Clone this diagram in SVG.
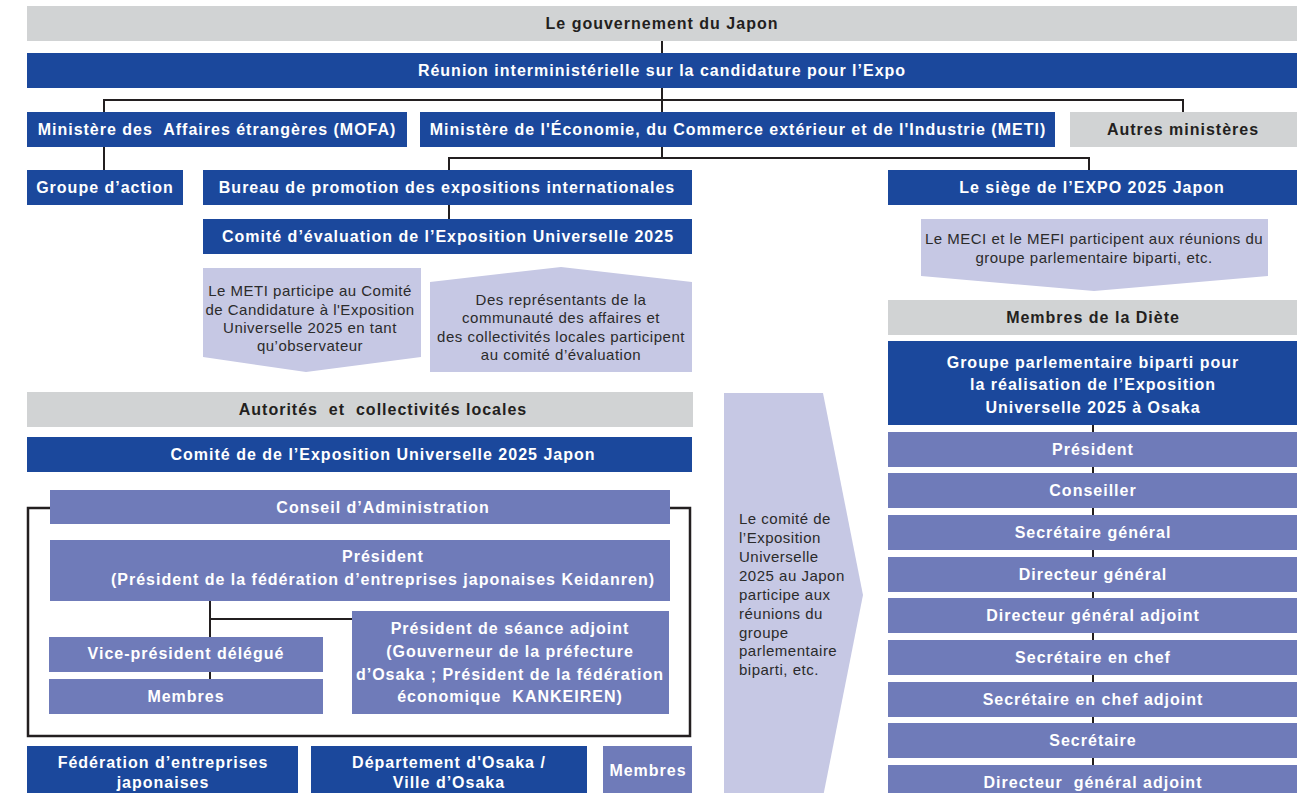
<svg xmlns="http://www.w3.org/2000/svg" width="1315" height="793" viewBox="0 0 1315 793">
<defs>
<style>
.dk{fill:#1b489c}
.pw{fill:#6f7bb9}
.gr{fill:#d1d3d4}
.lv{fill:#c6c8e4}
.tw{font-family:"Liberation Sans",Arial,sans-serif;font-size:16px;font-weight:bold;fill:#ffffff;letter-spacing:1px;text-anchor:middle}
.tg{font-family:"Liberation Sans",Arial,sans-serif;font-size:16px;font-weight:bold;fill:#231f20;letter-spacing:1px;text-anchor:middle}
.tr{font-family:"Liberation Sans",Arial,sans-serif;font-size:15px;fill:#2b2b2b;letter-spacing:0.5px;text-anchor:middle}
.tl{font-family:"Liberation Sans",Arial,sans-serif;font-size:15px;fill:#2b2b2b;letter-spacing:0.5px}
.ln{fill:none;stroke:#231f20;stroke-width:2}
</style>
</defs>
<rect width="1315" height="793" fill="#ffffff"/>

<g id="connectors">
<path class="ln" d="M662,40 V112"/>
<path class="ln" d="M104,112 V100 H1183 V112"/>
<path class="ln" d="M104,147 V170"/>
<path class="ln" d="M662,147 V158"/>
<path class="ln" d="M449,170 V158 H1089 V170"/>
<path class="ln" d="M449,205 V219"/>
<path class="ln" d="M1093,425 V793"/>
<path class="ln" d="M210,601 V679"/>
<path class="ln" d="M210,619 H352"/>
<rect x="28" y="508" width="662" height="228" fill="none" stroke="#231f20" stroke-width="2.5"/>
</g>

<g id="gouvernement"><rect class="gr" x="27" y="6" width="1270" height="35"/><text class="tg" x="662" y="29">Le gouvernement du Japon</text></g>
<g id="reunion"><rect class="dk" x="27" y="53" width="1270" height="35"/><text class="tw" x="662" y="76">Réunion interministérielle sur la candidature pour l’Expo</text></g>
<g id="mofa"><rect class="dk" x="27" y="112" width="380" height="35"/><text class="tw" x="217" y="135" xml:space="preserve">Ministère des  Affaires étrangères (MOFA)</text></g>
<g id="meti"><rect class="dk" x="420" y="112" width="635" height="35"/><text class="tw" x="738" y="135">Ministère de l'Économie, du Commerce extérieur et de l'Industrie (METI)</text></g>
<g id="autres"><rect class="gr" x="1070" y="112" width="227" height="35"/><text class="tg" x="1183" y="135">Autres ministères</text></g>
<g id="groupe-action"><rect class="dk" x="27" y="170" width="156" height="35"/><text class="tw" x="105" y="193">Groupe d’action</text></g>
<g id="bureau"><rect class="dk" x="203" y="170" width="489" height="35"/><text class="tw" x="447" y="193">Bureau de promotion des expositions internationales</text></g>
<g id="siege"><rect class="dk" x="888" y="170" width="409" height="35"/><text class="tw" x="1092" y="193">Le siège de l’EXPO 2025 Japon</text></g>
<g id="comite-eval"><rect class="dk" x="203" y="219" width="489" height="35"/><text class="tw" x="448" y="242">Comité d’évaluation de l’Exposition Universelle 2025</text></g>

<g id="note-meti"><path class="lv" d="M203,268 H421 V357 L306,372 L203,357 Z"/>
<text class="tr" x="310" y="296">Le METI participe au Comité</text>
<text class="tr" x="310" y="315">de Candidature à l'Exposition</text>
<text class="tr" x="310" y="333">Universelle 2025 en tant</text>
<text class="tr" x="310" y="351">qu’observateur</text></g>

<g id="note-representants"><path class="lv" d="M430,282 L561,267 L692,282 V372 H430 Z"/>
<text class="tr" x="561" y="305">Des représentants de la</text>
<text class="tr" x="561" y="323">communauté des affaires et</text>
<text class="tr" x="561" y="342">des collectivités locales participent</text>
<text class="tr" x="561" y="360">au comité d’évaluation</text></g>

<g id="note-meci"><path class="lv" d="M921,219 H1268 V276 L1094,291 L921,276 Z"/>
<text class="tr" x="1094" y="244">Le MECI et le MEFI participent aux réunions du</text>
<text class="tr" x="1094" y="263">groupe parlementaire biparti, etc.</text></g>

<g id="autorites"><rect class="gr" x="27" y="392" width="666" height="35"/><text class="tg" x="383" y="415" xml:space="preserve">Autorités  et  collectivités locales</text></g>
<g id="comite-japon"><rect class="dk" x="27" y="437" width="665" height="35"/><text class="tw" x="383" y="460">Comité de de l’Exposition Universelle 2025 Japon</text></g>

<g id="conseil"><rect class="pw" x="50" y="490" width="620" height="34"/><text class="tw" x="383" y="513">Conseil d’Administration</text></g>
<g id="president-conseil"><rect class="pw" x="50" y="540" width="620" height="61"/>
<text class="tw" x="383" y="562">Président</text>
<text class="tw" x="383" y="585">(Président de la fédération d’entreprises japonaises Keidanren)</text></g>
<g id="vice-president"><rect class="pw" x="49" y="637" width="274" height="35"/><text class="tw" x="186" y="659">Vice-président délégué</text></g>
<g id="membres-conseil"><rect class="pw" x="49" y="679" width="274" height="35"/><text class="tw" x="186" y="702">Membres</text></g>
<g id="president-seance"><rect class="pw" x="352" y="611" width="317" height="103"/>
<text class="tw" x="510" y="634">Président de séance adjoint</text>
<text class="tw" x="510" y="657">(Gouverneur de la préfecture</text>
<text class="tw" x="510" y="680">d’Osaka ; Président de la fédération</text>
<text class="tw" x="510" y="702" xml:space="preserve">économique  KANKEIREN)</text></g>

<g id="federation"><rect class="dk" x="27" y="746" width="271" height="54"/>
<text class="tw" x="163" y="768">Fédération d’entreprises</text>
<text class="tw" x="163" y="788">japonaises</text></g>
<g id="departement"><rect class="dk" x="311" y="746" width="276" height="54"/>
<text class="tw" x="449" y="768">Département d'Osaka /</text>
<text class="tw" x="449" y="788">Ville d’Osaka</text></g>
<g id="membres-bas"><rect class="pw" x="603" y="746" width="89" height="54"/><text class="tw" x="648" y="776">Membres</text></g>

<g id="note-comite"><path class="lv" d="M724,393 H823 L863,595 L823,797 H724 Z"/>
<text class="tl" x="739" y="524">Le comité de</text>
<text class="tl" x="739" y="543">l’Exposition</text>
<text class="tl" x="739" y="562">Universelle</text>
<text class="tl" x="739" y="581">2025 au Japon</text>
<text class="tl" x="739" y="600">participe aux</text>
<text class="tl" x="739" y="619">réunions du</text>
<text class="tl" x="739" y="638">groupe</text>
<text class="tl" x="739" y="656">parlementaire</text>
<text class="tl" x="739" y="675">biparti, etc.</text></g>

<g id="membres-diete"><rect class="gr" x="888" y="300" width="409" height="35"/><text class="tg" x="1093" y="323">Membres de la Diète</text></g>
<g id="groupe-parlementaire"><rect class="dk" x="888" y="341" width="409" height="84"/>
<text class="tw" x="1093" y="368">Groupe parlementaire biparti pour</text>
<text class="tw" x="1093" y="390">la réalisation de l’Exposition</text>
<text class="tw" x="1093" y="413">Universelle 2025 à Osaka</text></g>
<g id="gp-president"><rect class="pw" x="888" y="432" width="409" height="35"/><text class="tw" x="1093" y="455">Président</text></g>
<g id="gp-conseiller"><rect class="pw" x="888" y="473" width="409" height="35"/><text class="tw" x="1093" y="496">Conseiller</text></g>
<g id="gp-secretaire-general"><rect class="pw" x="888" y="515" width="409" height="35"/><text class="tw" x="1093" y="538">Secrétaire général</text></g>
<g id="gp-directeur-general"><rect class="pw" x="888" y="557" width="409" height="35"/><text class="tw" x="1093" y="580">Directeur général</text></g>
<g id="gp-directeur-adjoint"><rect class="pw" x="888" y="598" width="409" height="35"/><text class="tw" x="1093" y="621">Directeur général adjoint</text></g>
<g id="gp-secretaire-chef"><rect class="pw" x="888" y="640" width="409" height="35"/><text class="tw" x="1093" y="663">Secrétaire en chef</text></g>
<g id="gp-secretaire-chef-adjoint"><rect class="pw" x="888" y="682" width="409" height="35"/><text class="tw" x="1093" y="705">Secrétaire en chef adjoint</text></g>
<g id="gp-secretaire"><rect class="pw" x="888" y="723" width="409" height="35"/><text class="tw" x="1093" y="746">Secrétaire</text></g>
<g id="gp-directeur-adjoint-2"><rect class="pw" x="888" y="765" width="409" height="35"/><text class="tw" x="1093" y="788" xml:space="preserve">Directeur  général adjoint</text></g>
</svg>
